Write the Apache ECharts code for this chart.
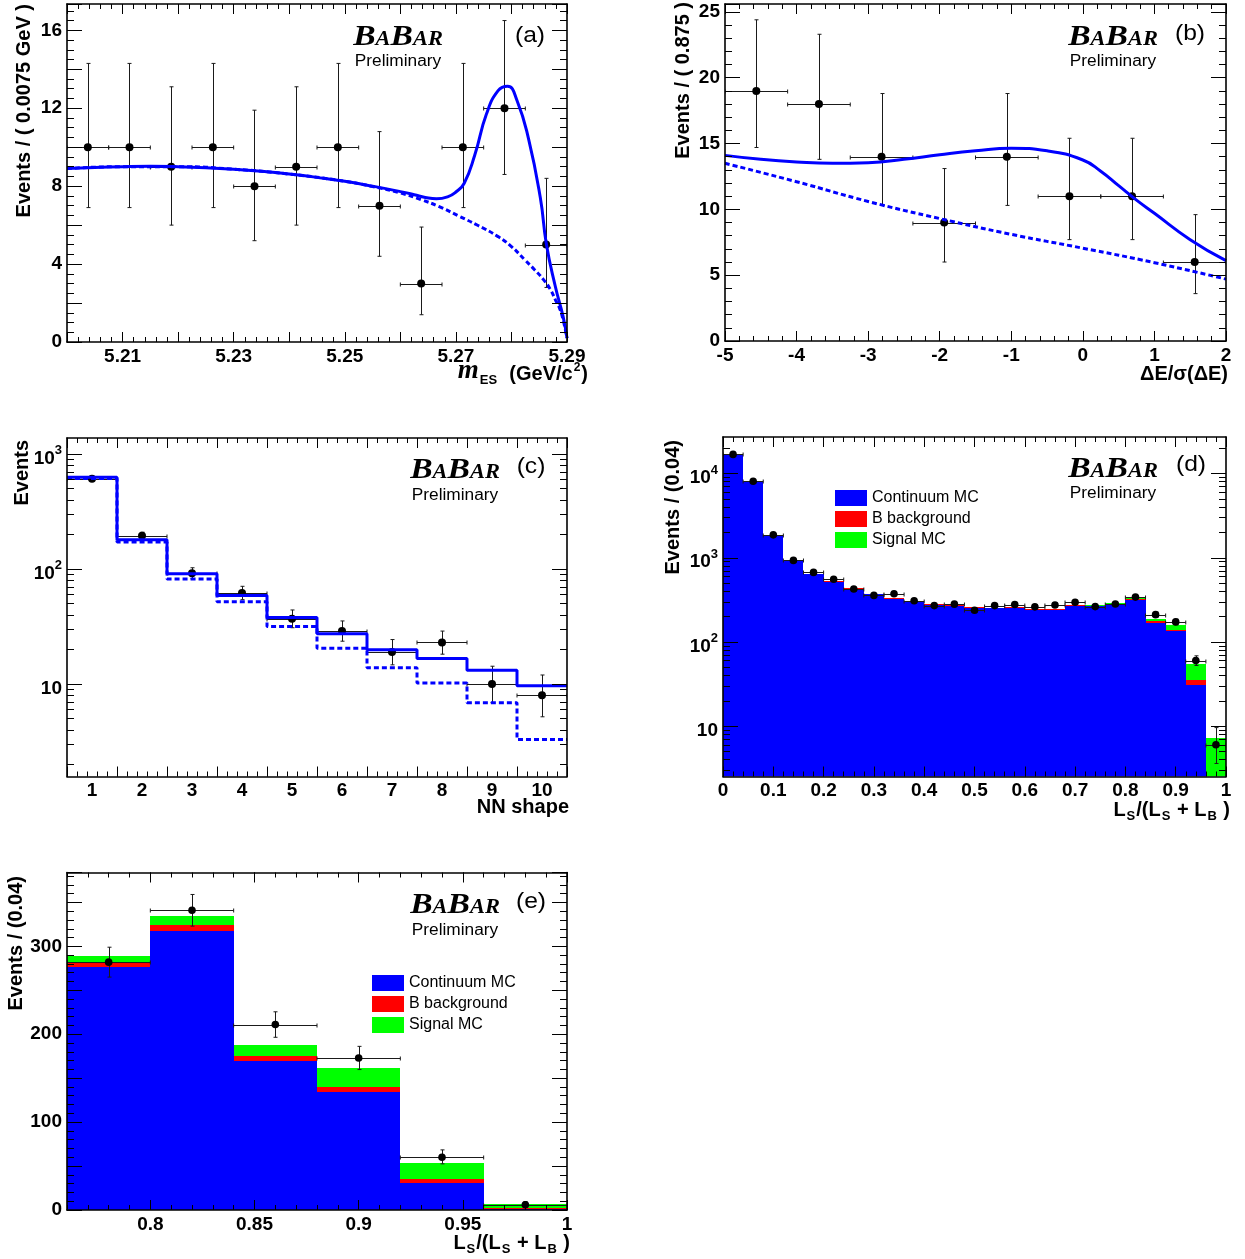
<!DOCTYPE html>
<html><head><meta charset="utf-8">
<script src="https://cdn.jsdelivr.net/npm/echarts@6/dist/echarts.min.js"></script>
<style>html,body{margin:0;padding:0;background:#fff}#c{width:1245px;height:1259px}</style>
</head><body><div id="c"></div>
<script>
// ================= DATA =================
// (a) m_ES
const aBins  = [5.20375,5.21125,5.21875,5.22625,5.23375,5.24125,5.24875,5.25625,5.26375,5.27125,5.27875,5.28625];
const aData  = [10,10,9,10,8,9,10,7,3,10,12,5];
const aErrLo = [3.1,3.1,3.0,3.1,2.8,3.0,3.1,2.6,1.6,3.1,3.4,2.2];
const aErrHi = [4.3,4.3,4.1,4.3,3.9,4.1,4.3,3.8,2.9,4.3,4.5,3.4];
const aFitX  = [5.200,5.205,5.210,5.215,5.220,5.225,5.230,5.235,5.240,5.245,5.250,5.255,5.2600,5.2625,5.2645,5.2665,5.2685,5.2700,5.2715,5.2734,5.2755,5.2776,5.2793,5.2810,5.2831,5.2852,5.2863,5.2879,5.2893,5.2900];
const aFitY  = [8.90,8.96,9.00,9.02,9.00,8.95,8.87,8.76,8.62,8.45,8.25,8.00,7.72,7.56,7.42,7.35,7.45,7.70,8.15,9.60,11.70,12.90,13.13,12.40,10.40,7.40,5.00,2.85,1.30,0.20];
const aBkgX  = [5.200,5.210,5.220,5.230,5.240,5.250,5.255,5.2600,5.2638,5.2670,5.2707,5.2740,5.2776,5.2800,5.2824,5.2842,5.2858,5.2870,5.2879,5.2887,5.2893,5.2900];
const aBkgY  = [8.90,9.00,9.00,8.87,8.62,8.25,7.98,7.65,7.30,6.95,6.44,5.98,5.41,4.90,4.22,3.70,3.19,2.70,2.17,1.70,1.14,0.20];
// (b) Delta E / sigma
const bBins  = [-4.5625,-3.6875,-2.8125,-1.9375,-1.0625,-0.1875,0.6875,1.5625];
const bData  = [19,18,14,9,14,11,11,6];
const bErrLo = [4.3,4.2,3.7,3.0,3.7,3.3,3.3,2.4];
const bErrHi = [5.4,5.3,4.8,4.1,4.8,4.4,4.4,3.6];
const bFitX  = [-5,-4.5,-4,-3.5,-3,-2.5,-2,-1.5,-1,-0.5,0,0.25,0.5,0.75,1,1.5,2];
const bFitY  = [14.1,13.8,13.6,13.5,13.55,13.8,14.15,14.45,14.65,14.45,13.75,12.9,11.8,10.7,9.7,7.7,6.1];
const bBkgX  = [-5,-4,-3,-2,-1,0,1,2];
const bBkgY  = [13.5,12.1,10.6,9.3,8.1,7.05,5.95,4.7];
// (c) NN shape
const cBins  = [1,2,3,4,5,6,7,8,9,10];
const cEdges = [0.5,1.5,2.5,3.5,4.5,5.5,6.5,7.5,8.5,9.5,10.5];
const cData  = [610,195,92,62,37,29,19,23,10,8];
const cErrLo = [25,14,9.6,7.8,6.1,5.4,4.3,4.8,3.1,2.8];
const cErrHi = [25,14,10.6,8.8,7.1,6.4,5.4,5.9,4.3,4.0];
const cFit   = [627,180,91,59,38,27.4,19.9,16.7,13.2,9.7];
const cBkg   = [612,172,82,52,31.7,20.5,13.9,10.2,6.9,3.3];
// (d) Ls/(Ls+LB), full range ; (e) is its last six bins
const dBins  = [0.02,0.06,0.10,0.14,0.18,0.22,0.26,0.30,0.34,0.38,0.42,0.46,0.50,0.54,0.58,0.62,0.66,0.70,0.74,0.78,0.82,0.86,0.90,0.94,0.98];
const dCont  = [16800,7950,1800,910,635,520,430,368,325,303,275,266,252,250,256,238,242,268,264,276,318,169,134,31,1.5];
const dBbkg  = [150,50,40,15,15,12,8,6,5,5,5,5,5,5,5,5,5,6,6,6,6,6,6,4,0.7];
const dSig   = [0,0,0,0,0,0,0,1,1,1,1,1,1,1,1,1,1,2,2,7,10,13,21,19,5];
const dData  = [16900,8100,1870,930,670,555,425,357,373,308,270,281,238,270,278,261,275,296,263,282,341,211,173,60,6];
const dErrLo = [130,90,43,30,26,24,21,19,19,18,16,17,15,16,17,16,17,17,16,17,18,14.5,13.2,7.5,2.4];
const dErrHi = [130,90,43,30,26,24,21,19,19,18,16,17,15,16,17,16,17,17,16,17,18,14.5,13.2,8.4,3.6];
const eFirst = 19;
// axis ranges
const aX = [5.20,5.29], aY = [0,17.35];
const bX = [-5,2],      bY = [0,25.6];
const cX = [0.5,10.5],  cY = [1.574,1377];
const dX = [0,1],       dY = [2.52,27200];
const eX = [0.76,1.0],  eY = [0,384];
const legendNames = ['Continuum MC','B background','Signal MC'];

// ================= STYLE / HELPERS =================
const SANS = "'Liberation Sans', Arial, Helvetica, sans-serif";
const SERIF = "'Liberation Serif', 'Times New Roman', serif";
const BLUE = '#0000ff', RED = '#ff0000', GREEN = '#00ff00';
const L10 = Math.log10;
const xAxes = [], yAxes = [];
function push(list, o){ list.push(o); return list.length - 1; }
function mk(g, pos, min, max, o){
  o = o || {};
  const a = {gridIndex:g, position:pos, type:'value', min:min, max:max, z:10, silent:true, offset:0,
    axisLine:{show:!!o.line, onZero:false, lineStyle:{color:'#000', width:1.6}},
    axisTick:{show:!!o.len, inside:true, length:o.len||0, lineStyle:{color:'#000', width:1}},
    axisLabel:{show:false}, splitLine:{show:false}, minorTick:{show:false}, axisPointer:{show:false}};
  if (o.interval != null) a.interval = o.interval;
  if (o.ticks) a.axisTick.customValues = o.ticks;
  if (o.label) a.axisLabel = Object.assign({show:true, margin:5, color:'#000', fontFamily:SANS, fontSize:19, fontWeight:'bold'}, o.label);
  return a;
}
function frame(g, X, Y){
  const xi = push(xAxes, mk(g,'bottom',X.min,X.max,Object.assign({line:true},X.major)));
  push(xAxes, mk(g,'bottom',X.min,X.max,X.minor));
  push(xAxes, mk(g,'top',X.min,X.max,Object.assign({line:true},X.major,{label:null})));
  push(xAxes, mk(g,'top',X.min,X.max,X.minor));
  let yi = push(yAxes, mk(g,'left',Y.min,Y.max,Object.assign({line:true},Y.major)));
  push(yAxes, mk(g,'left',Y.min,Y.max,Y.minor));
  push(yAxes, mk(g,'right',Y.min,Y.max,Object.assign({line:true},Y.major,{label:null})));
  push(yAxes, mk(g,'right',Y.min,Y.max,Y.minor));
  if (Y.log) yi = push(yAxes, {gridIndex:g, type:'log', logBase:10, min:Y.log[0], max:Y.log[1], position:'left',
      axisLine:{show:false}, axisTick:{show:false}, axisLabel:{show:false}, splitLine:{show:false}, minorTick:{show:false}});
  return {xi:xi, yi:yi};
}
function logMinor(lo, hi){
  const out = [];
  for (let e = Math.floor(lo); e <= Math.ceil(hi); e++)
    for (let k = 2; k <= 9; k++){ const v = e + L10(k); if (v > lo && v < hi) out.push(v); }
  return out;
}
const logRich = {
  b:{fontSize:19, fontWeight:'bold', fontFamily:SANS, color:'#000', lineHeight:20, verticalAlign:'top', padding:[5,0,5,0]},
  s:{fontSize:13, fontWeight:'bold', fontFamily:SANS, color:'#000', lineHeight:13, verticalAlign:'top'}
};
function logLab(v){ const e = Math.round(v); return e === 1 ? '{b|10}' : '{b|10}{s|' + e + '}'; }

// ================= GRIDS & AXES =================
const grids = [
  {left:67,  top:4,     width:500, height:338},
  {left:725, top:4,     width:501, height:337},
  {left:67,  top:438,   width:500, height:338.5},
  {left:723, top:437,   width:503, height:339.5},
  {left:67,  top:872.5, width:500, height:337.5}
].map(g => Object.assign({show:false, containLabel:false, outerBoundsMode:'none'}, g));

const A = frame(0,
  {min:aX[0], max:aX[1], major:{interval:0.01, len:10, label:{formatter:v => { const k = Math.round(v*100); return k % 2 === 1 ? (k/100).toFixed(2) : ''; }}},
   minor:{interval:0.002, len:5}},
  {min:aY[0], max:aY[1], major:{interval:2, len:15, label:{formatter:v => (Math.abs(v % 4) < 1e-9 ? String(v) : '')}},
   minor:{interval:0.5, len:7}});
const B = frame(1,
  {min:bX[0], max:bX[1], major:{interval:1, len:10, label:{formatter:v => String(Math.round(v))}}, minor:{interval:0.2, len:5}},
  {min:bY[0], max:bY[1], major:{interval:5, len:15, label:{formatter:v => (Math.abs(v % 5) < 1e-9 ? String(v) : '')}}, minor:{interval:1, len:7}});
const C = frame(2,
  {min:cX[0], max:cX[1], major:{interval:1, len:10, label:{customValues:cBins, formatter:v => String(Math.round(v))}}, minor:{interval:0.2, len:5}},
  {min:L10(cY[0]), max:L10(cY[1]), log:cY, major:{ticks:[1,2,3], len:15, label:{customValues:[1,2,3], formatter:logLab, rich:logRich}},
   minor:{ticks:logMinor(L10(cY[0]), L10(cY[1])), len:7}});
const D = frame(3,
  {min:dX[0], max:dX[1], major:{interval:0.1, len:10, label:{formatter:v => (Math.abs(v) < 1e-9 ? '0' : Math.abs(v-1) < 1e-9 ? '1' : v.toFixed(1))}}, minor:{interval:0.02, len:5}},
  {min:L10(dY[0]), max:L10(dY[1]), log:dY, major:{ticks:[1,2,3,4], len:15, label:{customValues:[1,2,3,4], formatter:logLab, rich:logRich}},
   minor:{ticks:logMinor(L10(dY[0]), L10(dY[1])), len:7}});
const E = frame(4,
  {min:eX[0], max:eX[1], major:{ticks:[0.8,0.85,0.9,0.95,1.0], len:10, label:{customValues:[0.8,0.85,0.9,0.95,1.0], formatter:v => (Math.abs(v-1) < 1e-9 ? '1' : String(+v.toFixed(2)))}}, minor:{interval:0.01, len:5}},
  {min:eY[0], max:eY[1], major:{interval:50, len:15, label:{formatter:v => (Math.abs(v % 100) < 1e-9 ? String(v) : '')}}, minor:{interval:10, len:7}});

// ================= SERIES =================
function pts(ax, xs, ys, lo, hi, hw, r){
  const data = xs.map((x, i) => [x, ys[i], ys[i] - lo[i], ys[i] + hi[i]]);
  return {type:'custom', xAxisIndex:ax.xi, yAxisIndex:ax.yi, data:data, z:4, silent:true, clip:true,
    renderItem:function(p, api){
      const x = api.value(0), y = api.value(1), l = api.value(2), h = api.value(3);
      const c = api.coord([x, y]), t = api.coord([x, h]), b = api.coord([x, l]);
      const L = api.coord([x - hw, y]), R = api.coord([x + hw, y]);
      const cx = Math.round(c[0]) + 0.5, cy = Math.round(c[1]) + 0.5;
      const st = {stroke:'#1a1a1a', lineWidth:1};
      return {type:'group', children:[
        {type:'line', shape:{x1:cx, y1:t[1], x2:cx, y2:b[1]}, style:st},
        {type:'line', shape:{x1:cx-2, y1:t[1], x2:cx+2, y2:t[1]}, style:st},
        {type:'line', shape:{x1:cx-2, y1:b[1], x2:cx+2, y2:b[1]}, style:st},
        {type:'line', shape:{x1:L[0], y1:cy, x2:R[0], y2:cy}, style:st},
        {type:'line', shape:{x1:L[0], y1:cy-2, x2:L[0], y2:cy+2}, style:st},
        {type:'line', shape:{x1:R[0], y1:cy-2, x2:R[0], y2:cy+2}, style:st},
        {type:'circle', shape:{cx:c[0], cy:c[1], r:r}, style:{fill:'#000'}}
      ]};
    }};
}
function curve(ax, xs, ys, dashed){
  return {type:'line', xAxisIndex:ax.xi, yAxisIndex:ax.yi, data:xs.map((x, i) => [x, ys[i]]), z:5, silent:true,
    smooth:0.5, showSymbol:false, symbol:'none',
    lineStyle:{color:BLUE, width:3, type:dashed ? [5,3] : 'solid'}};
}
function steps(ax, edges, vals, dashed){
  return {type:'line', xAxisIndex:ax.xi, yAxisIndex:ax.yi, step:'end', z:5, silent:true,
    data:edges.map((e, i) => [e, vals[Math.min(i, vals.length - 1)]]), showSymbol:false, symbol:'none',
    lineStyle:{color:BLUE, width:3, type:dashed ? [5,3] : 'solid'}};
}
function layer(ax, name, color, xs, lo, hi, hw){
  return {type:'custom', name:name, xAxisIndex:ax.xi, yAxisIndex:ax.yi, z:2, silent:true, clip:true,
    itemStyle:{color:color}, data:xs.map((x, i) => [x, lo[i], hi[i]]),
    renderItem:function(p, api){
      const x = api.value(0);
      const a = api.coord([x - hw, api.value(2)]), b = api.coord([x + hw, api.value(1)]);
      const x0 = Math.round(a[0]), x1 = Math.round(b[0]), y0 = Math.round(a[1]), y1 = Math.round(b[1]);
      return {type:'rect', shape:{x:x0, y:y0, width:x1 - x0, height:y1 - y0}, style:{fill:color}};
    }};
}
function stack(ax, xs, cont, bb, sig, base, hw){
  const t1 = cont, t2 = cont.map((v, i) => v + bb[i]), t3 = t2.map((v, i) => v + sig[i]);
  return [
    layer(ax, legendNames[0], BLUE,  xs, xs.map(() => base), t1, hw),
    layer(ax, legendNames[1], RED,   xs, t1, t2, hw),
    layer(ax, legendNames[2], GREEN, xs, t2, t3, hw)
  ];
}
const series = [].concat(
  [pts(A, aBins, aData, aErrLo, aErrHi, 0.00375, 4), curve(A, aBkgX, aBkgY, true), curve(A, aFitX, aFitY, false)],
  [pts(B, bBins, bData, bErrLo, bErrHi, 0.4375, 4), curve(B, bBkgX, bBkgY, true), curve(B, bFitX, bFitY, false)],
  [pts(C, cBins, cData, cErrLo, cErrHi, 0.5, 4), steps(C, cEdges, cBkg, true), steps(C, cEdges, cFit, false)],
  stack(D, dBins, dCont, dBbkg, dSig, 1, 0.02),
  [pts(D, dBins, dData, dErrLo, dErrHi, 0.02, 3.8)],
  stack(E, dBins.slice(eFirst), dCont.slice(eFirst), dBbkg.slice(eFirst), dSig.slice(eFirst), 0, 0.02),
  [pts(E, dBins.slice(eFirst), dData.slice(eFirst), dErrLo.slice(eFirst), dErrHi.slice(eFirst), 0.02, 3.8)]
);

// ================= TEXT =================
const graphics = [];
function T(o){ o.silent = true; o.z = 100; if (o.style){ o.style.textAlign = o.style.align; o.style.textVerticalAlign = o.style.verticalAlign; if (!o.style.fill) o.style.fill = '#000'; } graphics.push(o); }
function logo(cx, cy, py, lx, ly, lab){
  T({type:'text', x:cx, y:cy, scaleX:1.12, style:{text:'{B|B}{s|A}{B|B}{s|AR}', align:'center', verticalAlign:'middle',
     font:'italic bold 30px ' + SERIF,
     rich:{B:{fontFamily:SERIF, fontStyle:'italic', fontWeight:'bold', fontSize:30, lineHeight:30, verticalAlign:'bottom'},
           s:{fontFamily:SERIF, fontStyle:'italic', fontWeight:'bold', fontSize:20, lineHeight:20, verticalAlign:'bottom', padding:[0,0,2,0]}}}});
  T({type:'text', x:cx, y:py, scaleX:1.08, style:{text:'Preliminary', font:'16px ' + SANS, align:'center', verticalAlign:'middle'}});
  T({type:'text', x:lx, y:ly, scaleX:1.12, style:{text:lab, font:'22px ' + SANS, align:'center', verticalAlign:'middle'}});
}
logo(398, 37, 62, 530, 36, '(a)');
logo(1113, 37, 62, 1190, 34, '(b)');
logo(455, 470, 496, 531, 467, '(c)');
logo(1113, 469, 494, 1191, 465, '(d)');
logo(455, 905, 931, 531, 902, '(e)');
function ytitle(x, top, text){
  T({type:'text', x:x, y:top, rotation:Math.PI/2, style:{text:text, font:'bold 20px ' + SANS, align:'right', verticalAlign:'middle'}});
}
ytitle(24, 4, 'Events / ( 0.0075 GeV )');
ytitle(683, 2, 'Events / ( 0.875 )');
ytitle(22, 440, 'Events');
ytitle(673, 440, 'Events / (0.04)');
ytitle(16, 876, 'Events / (0.04)');
const xRich = {
  M:{fontFamily:SERIF, fontStyle:'italic', fontWeight:'bold', fontSize:27, lineHeight:27, verticalAlign:'top'},
  T:{fontFamily:SANS, fontWeight:'bold', fontSize:20, lineHeight:20, verticalAlign:'top', padding:[6,0,0,0]},
  S:{fontFamily:SANS, fontWeight:'bold', fontSize:13, lineHeight:13, verticalAlign:'top', padding:[16,1,0,1]},
  P:{fontFamily:SANS, fontWeight:'bold', fontSize:12, lineHeight:12, verticalAlign:'top', padding:[4,1,0,1]}
};
function xtitle(right, baseline, text){
  T({type:'text', x:right, y:baseline - 23, style:{text:text, font:'bold 20px ' + SANS, align:'right', verticalAlign:'top', rich:xRich}});
}
xtitle(588, 381, '{M|m}{S|ES}{T|  (GeV/c}{P|2}{T|)}');
xtitle(1228, 381, '{T|\u0394E/\u03c3(\u0394E)}');
xtitle(569, 814, '{T|NN shape}');
xtitle(1230, 817, '{T|L}{S|S}{T|/(L}{S|S}{T| + L}{S|B}{T| )}');
xtitle(570, 1250, '{T|L}{S|S}{T|/(L}{S|S}{T| + L}{S|B}{T| )}');

// ================= LEGENDS =================
function legend(left, top){
  return {left:left, top:top, orient:'vertical', icon:'rect', itemWidth:32, itemHeight:16, itemGap:5, padding:0,
    selectedMode:false, data:legendNames, textStyle:{fontFamily:SANS, fontSize:16, color:'#000'}, itemStyle:{borderWidth:0}};
}

const chart = echarts.init(document.getElementById('c'), null, {renderer:'canvas'});
chart.setOption({
  animation:false,
  backgroundColor:'#fff',
  textStyle:{fontFamily:SANS},
  grid:grids, xAxis:xAxes, yAxis:yAxes, series:series,
  legend:[legend(835, 490), legend(372, 975)],
  graphic:graphics
});
</script></body></html>
